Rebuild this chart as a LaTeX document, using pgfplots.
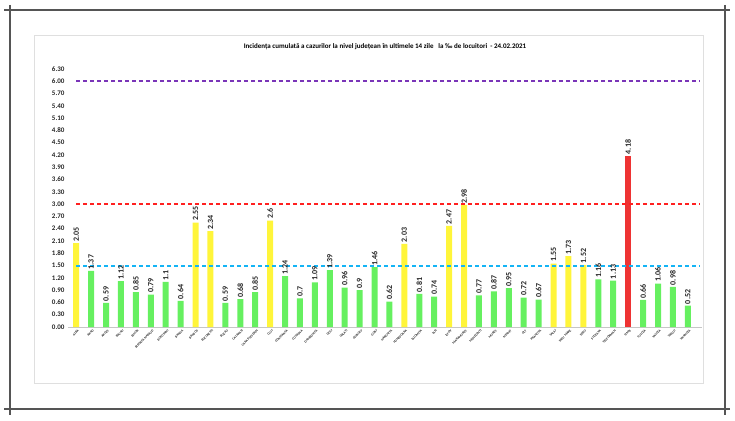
\documentclass[border=0pt]{standalone}
\usepackage{pgfplots}
\pgfplotsset{compat=1.18}
\usepackage{pgfplotstable}
\usepackage{fontspec}
\setmainfont{Carlito}
\definecolor{barY}{RGB}{255,245,58}
\definecolor{barG}{RGB}{102,240,96}
\definecolor{barR}{RGB}{238,51,51}
\definecolor{lnpurple}{RGB}{122,53,184}
\definecolor{lnred}{RGB}{255,32,32}
\definecolor{lnblue}{RGB}{20,180,245}
\definecolor{framegray}{RGB}{85,85,85}

% idx value
\pgfplotstableread{
x y
1 1.37
2 0.59
3 1.12
4 0.85
5 0.79
6 1.1
7 0.64
10 0.59
11 0.68
12 0.85
14 1.24
15 0.7
16 1.09
17 1.39
18 0.96
19 0.9
20 1.46
21 0.62
23 0.81
24 0.74
27 0.77
28 0.87
29 0.95
30 0.72
31 0.67
35 1.16
36 1.13
38 0.66
39 1.06
40 0.98
41 0.52
}\greendata
\pgfplotstableread{
x y
0 2.05
8 2.55
9 2.34
13 2.6
22 2.03
25 2.47
26 2.98
32 1.55
33 1.73
34 1.52
}\yellowdata
\pgfplotstableread{
x y
37 4.18
}\reddata

\begin{document}
\begin{tikzpicture}
\path[use as bounding box] (0,0) rectangle (735pt,-420pt);
\draw[framegray, line width=1.3pt] (4pt,-10pt) -- (730pt,-10pt);
\draw[framegray, line width=1.3pt] (4pt,-409pt) -- (730pt,-409pt);
\draw[framegray, line width=1.3pt] (10pt,-5pt) -- (10pt,-415pt);
\draw[framegray, line width=1.3pt] (725pt,-5pt) -- (725pt,-415pt);
\draw[gray!25, line width=0.8pt] (34pt,-35pt) rectangle (703pt,-383pt);
\node[font=\bfseries\fontsize{7}{8}\selectfont] at (385pt,-47pt)
  {Incidența cumulată a cazurilor la nivel județean în ultimele 14 zile \ \ la ‰ de locuitori \ - 24.02.2021};
\begin{axis}[
  at={(68pt,-327pt)}, anchor=south west,
  scale only axis, width=634pt, height=258pt,
  xmin=-0.55, xmax=41.95, ymin=0, ymax=6.3,
  axis x line*=bottom, axis y line*=left,
  x axis line style={draw=gray!45, -},
  y axis line style={draw=none},
  major tick length=0pt,
  ytick={0,0.3,0.6,0.9,1.2,1.5,1.8,2.1,2.4,2.7,3.0,3.3,3.6,3.9,4.2,4.5,4.8,5.1,5.4,5.7,6.0,6.3},
  yticklabel style={/pgf/number format/fixed, /pgf/number format/fixed zerofill, /pgf/number format/precision=2, /pgf/number format/assume math mode=true, font=\bfseries\fontsize{7}{7}\selectfont, text=black!85},
  xtick={0,...,41},
  xticklabels={ALBA,ARAD,ARGES,BACAU,BIHOR,BISTRITA NASAUD,BOTOSANI,BRAILA,BRASOV,BUCURESTI,BUZAU,CALARASI,CARAS SEVERIN,CLUJ,CONSTANTA,COVASNA,DAMBOVITA,DOLJ,GALATI,GIURGIU,GORJ,HARGHITA,HUNEDOARA,IALOMITA,IASI,ILFOV,MARAMURES,MEHEDINTI,MURES,NEAMT,OLT,PRAHOVA,SALAJ,SATU MARE,SIBIU,SUCEAVA,TELEORMAN,TIMIS,TULCEA,VALCEA,VASLUI,VRANCEA},
  xticklabel style={rotate=45, anchor=north east, font=\bfseries\fontsize{3.3}{4}\selectfont, inner sep=0.6pt, yshift=-2pt, text=black!85},
  clip=false,
]
\addplot[ybar, bar width=6pt, bar shift=0pt, fill=barG, draw=none,
  nodes near coords, every node near coord/.append style={rotate=90, anchor=west, font=\bfseries\fontsize{8}{8}\selectfont, text=black!85, inner sep=1.5pt, /pgf/number format/assume math mode=true}]
  table[x=x,y=y] {\greendata};
\addplot[ybar, bar width=6pt, bar shift=0pt, fill=barY, draw=none,
  nodes near coords, every node near coord/.append style={rotate=90, anchor=west, font=\bfseries\fontsize{8}{8}\selectfont, text=black!85, inner sep=1.5pt, /pgf/number format/assume math mode=true}]
  table[x=x,y=y] {\yellowdata};
\addplot[ybar, bar width=6pt, bar shift=0pt, fill=barR, draw=none,
  nodes near coords, every node near coord/.append style={rotate=90, anchor=west, font=\bfseries\fontsize{8}{8}\selectfont, text=black!85, inner sep=1.5pt, /pgf/number format/assume math mode=true}]
  table[x=x,y=y] {\reddata};
\addplot[forget plot, sharp plot, mark=none, color=lnpurple, line width=2pt, dash pattern=on 4pt off 3pt] coordinates {(0,6) (41.8,6)};
\addplot[forget plot, sharp plot, mark=none, color=lnred, line width=2pt, dash pattern=on 4pt off 3pt] coordinates {(0,3) (41.8,3)};
\addplot[forget plot, sharp plot, mark=none, color=lnblue, line width=2pt, dash pattern=on 4pt off 3pt] coordinates {(0,1.5) (41.8,1.5)};
\end{axis}
\end{tikzpicture}
\end{document}
